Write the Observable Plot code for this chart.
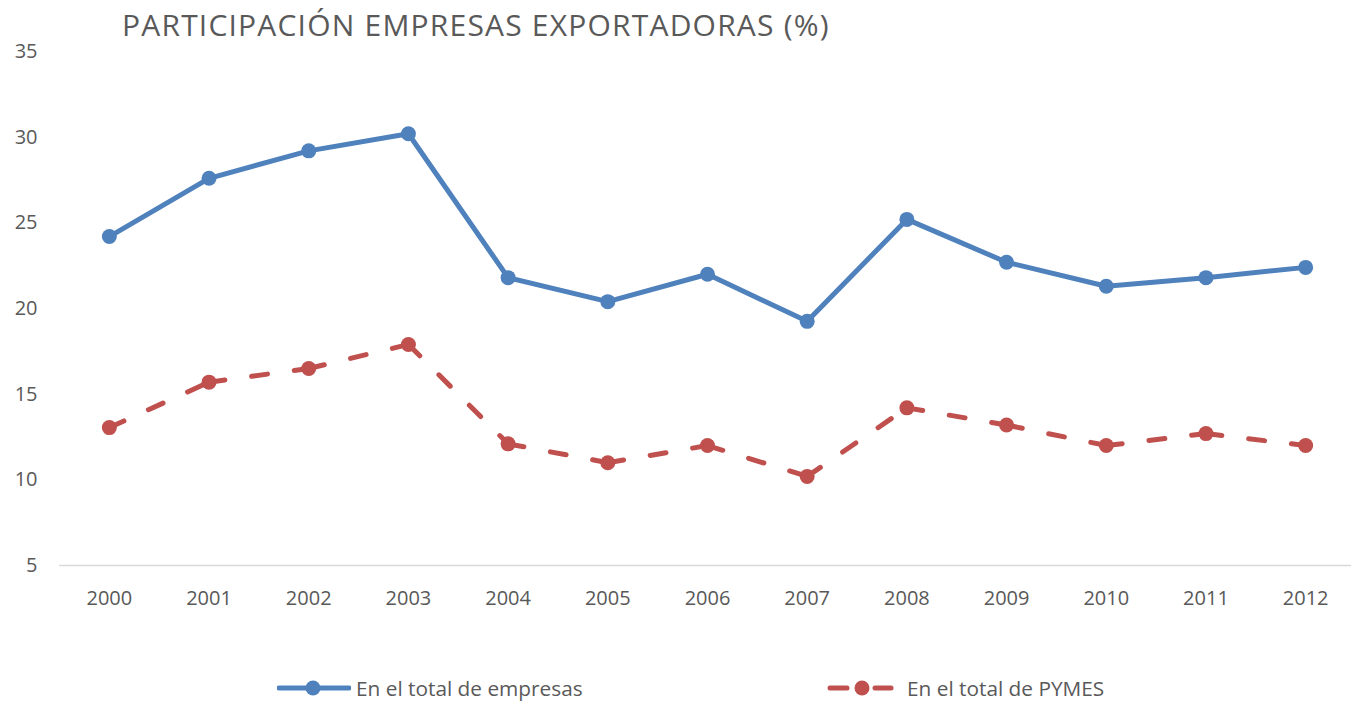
<!DOCTYPE html>
<html>
<head>
<meta charset="utf-8">
<script src="https://cdn.jsdelivr.net/npm/d3@7"></script>
<script src="https://cdn.jsdelivr.net/npm/@observablehq/plot@0.6"></script>
<style>
  html, body { margin: 0; padding: 0; background: #fff; }
  #wrap { position: relative; width: 1351px; height: 702px; overflow: hidden; font-family: "Open Sans", sans-serif; color: #595959; }
  #title { position: relative; z-index: 2; height: 30px; line-height: 50px; padding-left: 122px; font-size: 30px; letter-spacing: 1.2px; white-space: nowrap; color: #595959; }
  #chart svg { display: block; }
  #legend { position: relative; height: 82px; }
  .item { position: absolute; top: 54px; display: flex; align-items: center; font-size: 20.8px; white-space: nowrap; }
  .item svg { display: block; }
</style>
</head>
<body>
<div id="wrap">
  <div id="title">PARTICIPACIÓN EMPRESAS EXPORTADORAS (%)</div>
  <div id="chart"></div>
  <div id="legend"></div>
</div>
<script>
const years = ["2000","2001","2002","2003","2004","2005","2006","2007","2008","2009","2010","2011","2012"];
const totalEmpresas = [24.2, 27.6, 29.2, 30.2, 21.8, 20.4, 22.0, 19.25, 25.2, 22.7, 21.3, 21.8, 22.4];
const totalPymes = [13.05, 15.7, 16.5, 17.9, 12.1, 11.0, 12.0, 10.2, 14.2, 13.2, 12.0, 12.7, 12.0];
const yTicks = [5, 10, 15, 20, 25, 30, 35];
const seriesNames = ["En el total de empresas", "En el total de PYMES"];

const BLUE = "#4F81BD", RED = "#C0504D", GRAY = "#595959";

const empresas = years.map((year, i) => ({year, value: totalEmpresas[i]}));
const pymes = years.map((year, i) => ({year, value: totalPymes[i]}));
const pymesSegments = years.slice(1).map((year, i) => ({
  x1: years[i], y1: totalPymes[i], x2: year, y2: totalPymes[i + 1]
}));

const chart = Plot.plot({
  width: 1351,
  height: 590,
  marginLeft: 59,
  marginRight: -4,
  marginTop: 21,
  marginBottom: 55,
  style: { fontFamily: "Open Sans, sans-serif", fontSize: "20px", color: GRAY, background: "none", overflow: "visible" },
  x: { type: "point", domain: years, padding: 0.5, round: false, label: null },
  y: { domain: [5, 35], label: null },
  marks: [
    Plot.axisX({ tickSize: 0, tickPadding: 25, fontSize: 20, fill: GRAY, label: null }),
    Plot.axisY({ ticks: yTicks, tickSize: 0, tickPadding: 22, fontSize: 20, fill: GRAY, label: null }),
    Plot.ruleY([5], { stroke: "#D9D9D9", strokeWidth: 1.3 }),
    Plot.line(empresas, { x: "year", y: "value", stroke: BLUE, strokeWidth: 5, strokeLinejoin: "round" }),
    Plot.dot(empresas, { x: "year", y: "value", r: 7.5, fill: BLUE, stroke: "none" }),
    Plot.link(pymesSegments, { x1: "x1", y1: "y1", x2: "x2", y2: "y2", stroke: RED, strokeWidth: 5, strokeDasharray: "16,27", strokeLinecap: "round" }),
    Plot.dot(pymes, { x: "year", y: "value", r: 7.5, fill: RED, stroke: "none" })
  ]
});
document.getElementById("chart").appendChild(chart);

// Legend
const legend = document.getElementById("legend");
function addItem(left, name, color, dashed) {
  const item = document.createElement("div");
  item.className = "item";
  item.style.left = left + "px";
  const ns = "http://www.w3.org/2000/svg";
  const svg = document.createElementNS(ns, "svg");
  const w = dashed ? 70 : 74;
  svg.setAttribute("width", w);
  svg.setAttribute("height", 20);
  const segs = dashed ? [[3, 20], [48, 64]] : [[2, 72]];
  segs.forEach(([a, b]) => {
    const l = document.createElementNS(ns, "line");
    l.setAttribute("x1", a); l.setAttribute("x2", b);
    l.setAttribute("y1", 10); l.setAttribute("y2", 10);
    l.setAttribute("stroke", color); l.setAttribute("stroke-width", 5);
    l.setAttribute("stroke-linecap", "round");
    svg.appendChild(l);
  });
  const c = document.createElementNS(ns, "circle");
  c.setAttribute("cx", dashed ? 35 : 36); c.setAttribute("cy", 10); c.setAttribute("r", 7.5);
  c.setAttribute("fill", color);
  svg.appendChild(c);
  item.appendChild(svg);
  const span = document.createElement("span");
  span.textContent = name;
  span.style.marginLeft = dashed ? "10px" : "5px";
  item.appendChild(span);
  legend.appendChild(item);
}
addItem(277, seriesNames[0], BLUE, false);
addItem(827, seriesNames[1], RED, true);
</script>
</body>
</html>
